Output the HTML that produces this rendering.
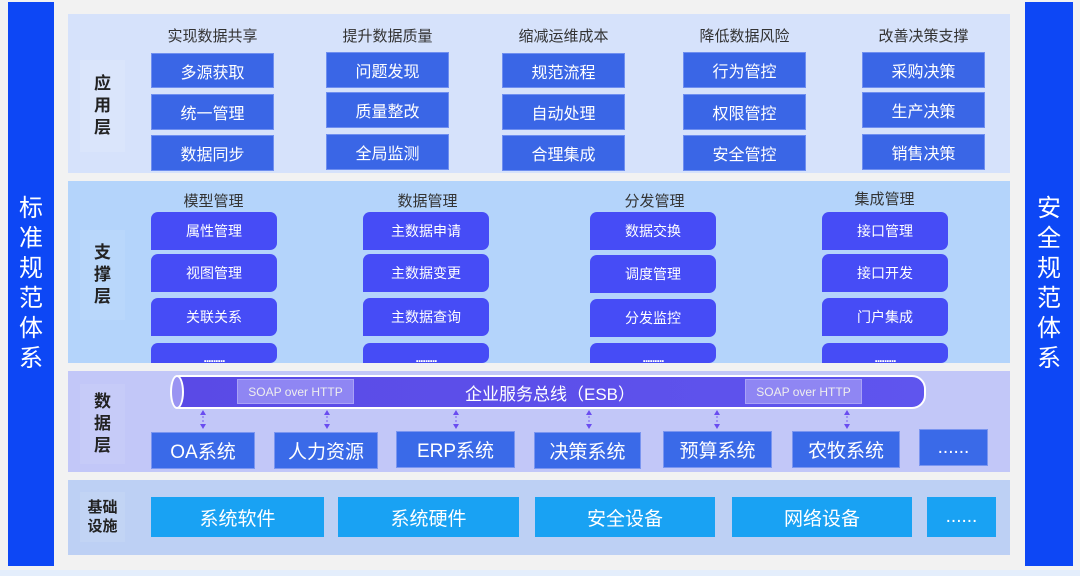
<!DOCTYPE html>
<html><head><meta charset="utf-8"><style>
*{margin:0;padding:0;box-sizing:border-box}
body{width:1080px;height:576px;background:#f2f2f2;position:relative;overflow:hidden;font-family:"Liberation Sans","Noto Sans CJK SC",sans-serif}
.a{position:absolute}
.c{display:flex;align-items:center;justify-content:center;color:#fff}
.bar{background:#0d47f5;color:#fff;font-size:24px;line-height:30px;text-align:center;padding-top:0}
.lab{font-weight:bold;color:#222;font-size:17px;line-height:22px;text-align:center;display:flex;align-items:center;justify-content:center;flex-direction:column}
.h{color:#333;font-size:15px;text-align:center}
.ap{background:#3a66e6;font-size:16px;border:1px solid #6f8ff0}
.sp{background:#464cf6;font-size:14px;border-radius:7px 7px 7px 0}
.dots{font-size:12px;font-weight:bold;letter-spacing:-1px;padding-top:10px}
.dt{background:#3a6ae8;font-size:19px;border:1px solid #7a95f0}
.inf{background:#19a2f3;font-size:19px}
</style></head><body>
<div class="a bar c" style="left:8px;top:2px;width:46px;height:564px;flex-direction:column">标<br>准<br>规<br>范<br>体<br>系</div>
<div class="a bar c" style="left:1025px;top:2px;width:48px;height:564px;flex-direction:column">安<br>全<br>规<br>范<br>体<br>系</div>
<div class="a" style="left:0;top:570px;width:1080px;height:6px;background:#e4eefc"></div>

<div class="a" style="left:68px;top:14px;width:942px;height:159px;background:#d6e2fb"></div>
<div class="a" style="left:68px;top:181px;width:942px;height:182px;background:#b4d4fb"></div>
<div class="a" style="left:68px;top:371px;width:942px;height:101px;background:#c2c7f8"></div>
<div class="a" style="left:68px;top:480px;width:942px;height:75px;background:#bdd0f4"></div>

<div class="a lab" style="left:80px;top:60px;width:45px;height:92px;background:#dae5fb">应<br>用<br>层</div>
<div class="a lab" style="left:80px;top:230px;width:45px;height:90px;background:#b9d7fb">支<br>撑<br>层</div>
<div class="a lab" style="left:80px;top:384px;width:45px;height:80px;background:#c6cbf8">数<br>据<br>层</div>
<div class="a lab" style="left:80px;top:492px;width:45px;height:50px;background:#c2d4f4;font-size:15px;line-height:19px">基础<br>设施</div>

<div class="a h" style="left:141px;top:25px;width:143px">实现数据共享</div>
<div class="a h" style="left:316px;top:25px;width:143px">提升数据质量</div>
<div class="a h" style="left:492px;top:25px;width:143px">缩减运维成本</div>
<div class="a h" style="left:673px;top:25px;width:143px">降低数据风险</div>
<div class="a h" style="left:852px;top:25px;width:143px">改善决策支撑</div>

<div class="a c ap" style="left:151px;top:53px;width:123px;height:35px">多源获取</div>
<div class="a c ap" style="left:151px;top:94px;width:123px;height:36px">统一管理</div>
<div class="a c ap" style="left:151px;top:135px;width:123px;height:36px">数据同步</div>
<div class="a c ap" style="left:326px;top:52px;width:123px;height:36px">问题发现</div>
<div class="a c ap" style="left:326px;top:92px;width:123px;height:36px">质量整改</div>
<div class="a c ap" style="left:326px;top:134px;width:123px;height:36px">全局监测</div>
<div class="a c ap" style="left:502px;top:53px;width:123px;height:35px">规范流程</div>
<div class="a c ap" style="left:502px;top:94px;width:123px;height:36px">自动处理</div>
<div class="a c ap" style="left:502px;top:135px;width:123px;height:36px">合理集成</div>
<div class="a c ap" style="left:683px;top:52px;width:123px;height:36px">行为管控</div>
<div class="a c ap" style="left:683px;top:94px;width:123px;height:36px">权限管控</div>
<div class="a c ap" style="left:683px;top:135px;width:123px;height:36px">安全管控</div>
<div class="a c ap" style="left:862px;top:52px;width:123px;height:36px">采购决策</div>
<div class="a c ap" style="left:862px;top:92px;width:123px;height:36px">生产决策</div>
<div class="a c ap" style="left:862px;top:134px;width:123px;height:36px">销售决策</div>

<div class="a h" style="left:141px;top:190px;width:145px">模型管理</div>
<div class="a h" style="left:355px;top:190px;width:145px">数据管理</div>
<div class="a h" style="left:582px;top:190px;width:145px">分发管理</div>
<div class="a h" style="left:812px;top:188px;width:145px">集成管理</div>

<div class="a c sp" style="left:151px;top:212px;width:126px;height:38px">属性管理</div>
<div class="a c sp" style="left:151px;top:254px;width:126px;height:38px">视图管理</div>
<div class="a c sp" style="left:151px;top:298px;width:126px;height:38px">关联关系</div>
<div class="a c sp dots" style="left:151px;top:343px;width:126px;height:20px">.........</div>
<div class="a c sp" style="left:363px;top:212px;width:126px;height:38px">主数据申请</div>
<div class="a c sp" style="left:363px;top:254px;width:126px;height:38px">主数据变更</div>
<div class="a c sp" style="left:363px;top:298px;width:126px;height:38px">主数据查询</div>
<div class="a c sp dots" style="left:363px;top:343px;width:126px;height:20px">.........</div>
<div class="a c sp" style="left:590px;top:212px;width:126px;height:38px">数据交换</div>
<div class="a c sp" style="left:590px;top:255px;width:126px;height:38px">调度管理</div>
<div class="a c sp" style="left:590px;top:299px;width:126px;height:38px">分发监控</div>
<div class="a c sp dots" style="left:590px;top:343px;width:126px;height:20px">.........</div>
<div class="a c sp" style="left:822px;top:212px;width:126px;height:38px">接口管理</div>
<div class="a c sp" style="left:822px;top:254px;width:126px;height:38px">接口开发</div>
<div class="a c sp" style="left:822px;top:298px;width:126px;height:38px">门户集成</div>
<div class="a c sp dots" style="left:822px;top:343px;width:126px;height:20px">.........</div>

<div class="a" style="left:172px;top:375px;width:754px;height:34px;background:linear-gradient(90deg,#5a4ae6,#5f55ee);border:2px solid #fff;border-radius:8px 14px 14px 8px"></div>
<div class="a" style="left:170px;top:375px;width:14px;height:34px;background:#9a94f2;border:2px solid #fff;border-radius:50%"></div>
<div class="a c" style="left:237px;top:379px;width:117px;height:25px;background:#8f86f3;border:1px solid #a9a2f6;font-size:12px;color:#eee">SOAP over HTTP</div>
<div class="a c" style="left:745px;top:379px;width:117px;height:25px;background:#8f86f3;border:1px solid #a9a2f6;font-size:12px;color:#eee">SOAP over HTTP</div>
<div class="a c" style="left:440px;top:380px;width:220px;height:25px;font-size:17px">企业服务总线（ESB）</div>
<svg class="a" style="left:0;top:0" width="1080" height="576">
<g stroke="#7a5df0" stroke-width="1" stroke-dasharray="2,2">
<line x1="203" y1="412" x2="203" y2="428"/><line x1="327" y1="412" x2="327" y2="428"/><line x1="456" y1="412" x2="456" y2="428"/><line x1="589" y1="412" x2="589" y2="428"/><line x1="717" y1="412" x2="717" y2="428"/><line x1="847" y1="412" x2="847" y2="428"/>
</g>
<g fill="#6a4df0">
<path d="M200 415L203 410L206 415Z M200 424L203 429L206 424Z"/>
<path d="M324 415L327 410L330 415Z M324 424L327 429L330 424Z"/>
<path d="M453 415L456 410L459 415Z M453 424L456 429L459 424Z"/>
<path d="M586 415L589 410L592 415Z M586 424L589 429L592 424Z"/>
<path d="M714 415L717 410L720 415Z M714 424L717 429L720 424Z"/>
<path d="M844 415L847 410L850 415Z M844 424L847 429L850 424Z"/>
</g></svg>
<div class="a c dt" style="left:151px;top:432px;width:104px;height:37px">OA系统</div>
<div class="a c dt" style="left:274px;top:432px;width:104px;height:37px">人力资源</div>
<div class="a c dt" style="left:396px;top:431px;width:119px;height:37px">ERP系统</div>
<div class="a c dt" style="left:534px;top:432px;width:107px;height:37px">决策系统</div>
<div class="a c dt" style="left:663px;top:431px;width:109px;height:37px">预算系统</div>
<div class="a c dt" style="left:792px;top:431px;width:108px;height:37px">农牧系统</div>
<div class="a c dt" style="left:919px;top:429px;width:69px;height:37px">......</div>

<div class="a c inf" style="left:151px;top:497px;width:173px;height:40px">系统软件</div>
<div class="a c inf" style="left:338px;top:497px;width:181px;height:40px">系统硬件</div>
<div class="a c inf" style="left:535px;top:497px;width:180px;height:40px">安全设备</div>
<div class="a c inf" style="left:732px;top:497px;width:180px;height:40px">网络设备</div>
<div class="a c inf" style="left:927px;top:497px;width:69px;height:40px">......</div>
</body></html>
